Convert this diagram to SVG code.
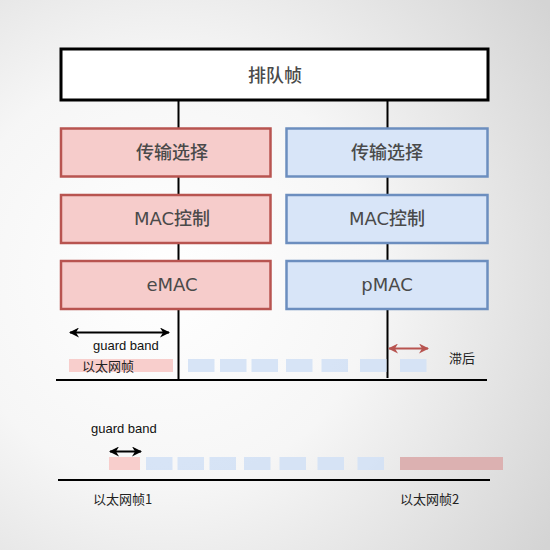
<svg xmlns="http://www.w3.org/2000/svg" width="550" height="550" viewBox="0 0 550 550">
<defs>
<radialGradient id="bg" cx="0.3" cy="0.5" r="0.85">
<stop offset="0" stop-color="#ffffff"/>
<stop offset="0.45" stop-color="#f6f6f6"/>
<stop offset="1" stop-color="#d4d4d4"/>
</radialGradient>
<marker id="ahK" viewBox="0 0 10 10" refX="9" refY="5" markerWidth="5" markerHeight="5" orient="auto-start-reverse" markerUnits="strokeWidth"><path d="M0,0 L10,5 L0,10 L3,5 Z" fill="#000"/></marker>
<marker id="ahR" viewBox="0 0 10 10" refX="9" refY="5" markerWidth="5" markerHeight="5" orient="auto-start-reverse" markerUnits="strokeWidth"><path d="M0,0 L10,5 L0,10 L3,5 Z" fill="#b85450"/></marker>
</defs>
<style>
.red{fill:#f6cccb;stroke:#b85450;stroke-width:2.5}
.blue{fill:#d8e5f8;stroke:#6c8ebf;stroke-width:2.5}
.bt{font-family:"DejaVu Sans","Noto Sans CJK SC",sans-serif;font-size:18px;font-weight:500;fill:#4a4a4a;text-anchor:middle;dominant-baseline:central}
.lt{font-family:"Liberation Sans","Noto Sans CJK SC",sans-serif;font-size:13px;fill:#111}
.ct{font-family:"Noto Sans CJK SC",sans-serif;font-size:13px;fill:#222}
.seg{fill:#d3e1f5;fill-opacity:0.9}
.pk{fill:#f8cecc}
.ln{stroke:#000;stroke-width:2;fill:none}
</style>
<rect width="550" height="550" fill="url(#bg)"/>
<g id="connectors">
<line class="ln" x1="178.5" y1="100" x2="178.5" y2="380"/>
<line class="ln" x1="387.5" y1="100" x2="387.5" y2="378"/>
<line class="ln" x1="56" y1="380" x2="487" y2="380"/>
<line class="ln" x1="58" y1="480" x2="490" y2="480"/>
</g>
<g id="queue"><rect x="61" y="49" width="427" height="51" fill="#fff" stroke="#000" stroke-width="3"/><text class="bt" x="275" y="75">排队帧</text></g>
<g id="e-ts"><rect class="red" x="61" y="128.5" width="209.5" height="48"/><text class="bt" x="172" y="152">传输选择</text></g>
<g id="e-mac"><rect class="red" x="61" y="195" width="209.5" height="48"/><text class="bt" x="172" y="218">MAC控制</text></g>
<g id="emac"><rect class="red" x="61" y="261" width="209.5" height="48"/><text class="bt" x="172" y="284">eMAC</text></g>
<g id="p-ts"><rect class="blue" x="286.5" y="128.5" width="201" height="48"/><text class="bt" x="387" y="152">传输选择</text></g>
<g id="p-mac"><rect class="blue" x="286.5" y="195" width="201" height="48"/><text class="bt" x="387" y="218">MAC控制</text></g>
<g id="pmac"><rect class="blue" x="286.5" y="261" width="201" height="48"/><text class="bt" x="387" y="284">pMAC</text></g>
<g id="timeline1">
<line x1="70" y1="332.5" x2="169" y2="332.5" stroke="#000" stroke-width="2" marker-start="url(#ahK)" marker-end="url(#ahK)"/>
<text class="lt" x="93" y="350">guard band</text>
<rect class="pk" x="69" y="359" width="104" height="13"/>
<text class="ct" x="82" y="371">以太网帧</text>
<rect class="seg" x="188" y="359" width="26.5" height="13"/>
<rect class="seg" x="220" y="359" width="26.5" height="13"/>
<rect class="seg" x="251.5" y="359" width="26.5" height="13"/>
<rect class="seg" x="286" y="359" width="26.5" height="13"/>
<rect class="seg" x="321.5" y="359" width="26.5" height="13"/>
<rect class="seg" x="360" y="359" width="26.5" height="13"/>
<rect class="seg" x="400" y="359" width="26.5" height="13"/>
<line x1="389" y1="348.5" x2="428" y2="348.5" stroke="#b85450" stroke-width="2" marker-start="url(#ahR)" marker-end="url(#ahR)"/>
<text class="ct" x="449" y="363">滞后</text>
</g>
<g id="timeline2">
<text class="lt" x="91" y="433">guard band</text>
<line x1="110" y1="451.5" x2="141" y2="451.5" stroke="#000" stroke-width="2" marker-start="url(#ahK)" marker-end="url(#ahK)"/>
<rect class="pk" x="109" y="457" width="31" height="13"/>
<rect class="seg" x="146" y="457" width="26.5" height="13"/>
<rect class="seg" x="177.5" y="457" width="26.5" height="13"/>
<rect class="seg" x="209.5" y="457" width="26.5" height="13"/>
<rect class="seg" x="244" y="457" width="26.5" height="13"/>
<rect class="seg" x="279.5" y="457" width="26.5" height="13"/>
<rect class="seg" x="317.5" y="457" width="26.5" height="13"/>
<rect class="seg" x="357.5" y="457" width="26.5" height="13"/>
<rect x="400" y="457" width="103" height="13" fill="#dcb1b1"/>
<text class="ct" x="93" y="504">以太网帧1</text>
<text class="ct" x="400" y="504">以太网帧2</text>
</g>
</svg>
